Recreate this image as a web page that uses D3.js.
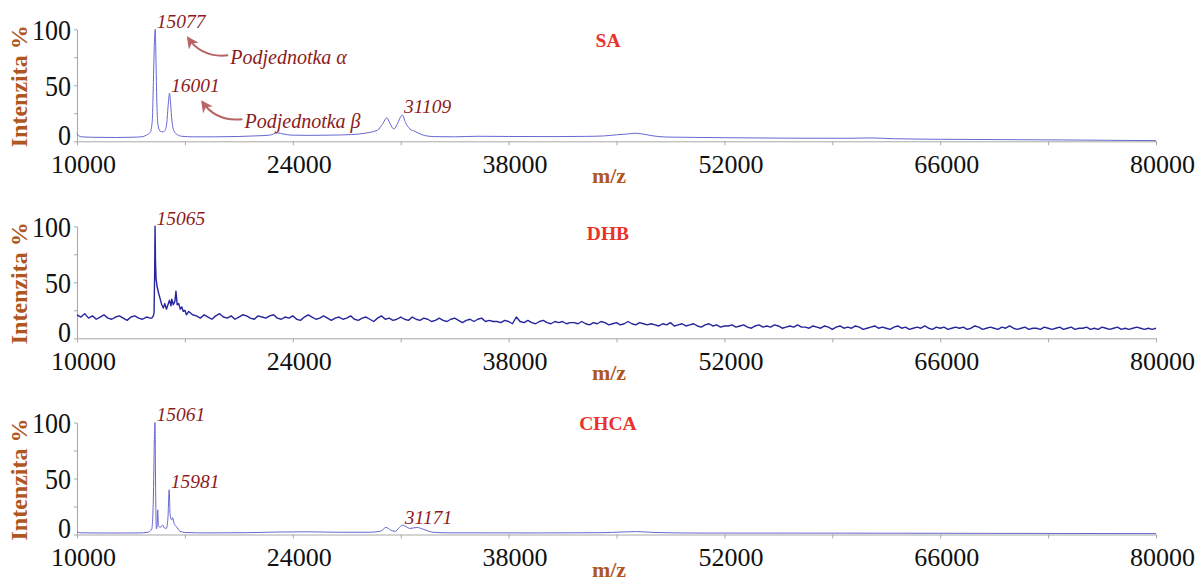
<!DOCTYPE html>
<html>
<head>
<meta charset="utf-8">
<script src="https://cdn.jsdelivr.net/npm/d3@7"></script>
<style>
  body { margin: 0; background: #fff; }
  svg { display: block; }
  text { font-family: "Liberation Serif", "Times New Roman", serif; }
</style>
</head>
<body>
<svg class="chart"></svg>
<script>
let svg_width = 1198;
let svg_height = 578;

let mzDomain = [10000, 80000];
let xTicks = [10000, 17000, 24000, 31000, 38000, 45000, 52000, 59000, 66000, 73000, 80000];
let yTicks = [0, 25, 50, 75, 100];

let matrixNames = ['SA', 'DHB', 'CHCA'];

// SA spectrum, [m/z, intensity %]
let saSpectrum = [
  [10000, 7], [10100, 5], [10300, 4], [11000, 3.6], [12500, 3.4], [13500, 3.6], [14200, 4], [14500, 5.5],
  [14750, 8], [14880, 18], [14960, 55], [15030, 92], [15077, 100], [15120, 75], [15180, 35], [15260, 14],
  [15400, 9], [15550, 8.5], [15700, 9.5], [15820, 16], [15920, 33], [16001, 43], [16070, 34], [16160, 18],
  [16300, 9], [16500, 6], [16800, 4.5], [17500, 4], [19000, 4], [20500, 4.3], [21500, 4.8], [22500, 5.5],
  [23000, 7.5], [23400, 6.5], [23900, 5.5], [25000, 5.3], [26500, 5.5], [27800, 6], [28800, 7.5], [29500, 10],
  [29850, 16], [30100, 21], [30300, 16], [30550, 11], [30800, 16], [31000, 22], [31109, 23.5], [31300, 17],
  [31600, 11], [31900, 9], [32200, 7], [32600, 5], [33200, 4.2], [34500, 4], [36000, 4.5], [38000, 4.3],
  [41000, 4.2], [43000, 4.4], [44200, 4.8], [45000, 5.8], [45700, 6.5], [46200, 7.2], [46700, 6.5], [47300, 5],
  [48200, 3.8], [50000, 3.5], [52000, 3.2], [56000, 2.8], [60000, 2.7], [61500, 3], [63000, 2.3], [66000, 1.8],
  [70000, 1.5], [74000, 1.2], [77000, 0.9], [80000, 0.6]
];

// CHCA spectrum, [m/z, intensity %]
let chcaSpectrum = [
  [10000, 2.5], [10200, 1.5], [12000, 1.3], [14000, 1.4], [14600, 2], [14850, 5], [14950, 30], [15020, 85],
  [15061, 100], [15100, 40], [15150, 5], [15200, 8], [15236, 22], [15280, 8], [15380, 6.5], [15480, 7],
  [15560, 8.5], [15650, 6], [15800, 5.5], [15900, 15], [15981, 40], [16040, 18], [16140, 13], [16200, 15],
  [16300, 10], [16450, 7], [16680, 3], [17000, 1.8], [18500, 1.4], [21000, 1.6], [23000, 2.2], [25000, 2.4],
  [27000, 2], [29000, 2], [29700, 3], [30050, 6.3], [30350, 4], [30640, 2.8], [30900, 6], [31110, 8.4],
  [31350, 7], [31610, 5.4], [32040, 6.3], [32500, 4.5], [33100, 2], [34000, 1.5], [40000, 1.4], [44000, 1.6],
  [45500, 2.3], [46300, 2.6], [47500, 1.8], [50000, 1.3], [60000, 1.2], [70000, 1], [80000, 0.8]
];

// DHB spectrum: noisy, sampled every 250 Da before and after the main peak
let dhbStep = 250;
let dhbLowStart = 10000;
let dhbLow = [21, 19, 22, 18, 20, 17, 19, 21, 18, 17, 19, 20, 18, 16, 19, 20, 18, 17, 19, 18];
let dhbPeak = [
  [14850, 18], [14950, 20], [15000, 23], [15040, 60], [15065, 100], [15090, 70], [15130, 53], [15200, 46],
  [15300, 40], [15400, 35], [15500, 30], [15600, 27], [15700, 31], [15800, 26], [15900, 30], [16000, 34],
  [16100, 29], [16150, 35], [16250, 30], [16350, 33], [16420, 42], [16500, 30], [16600, 31], [16700, 26],
  [16800, 28], [16900, 24], [17000, 25], [17100, 21]
];
let dhbTailStart = 17250;
let dhbTail = [
  24, 21, 20, 18, 21, 19, 17, 20, 22, 19, 18, 20, 17, 19, 21, 20, 18, 17, 20, 19,
  18, 20, 21, 18, 17, 19, 18, 20, 17, 16, 19, 21, 19, 17, 18, 20, 18, 16, 18, 19,
  17, 18, 20, 17, 16, 18, 19, 17, 15, 18, 20, 17, 18, 16, 17, 19, 17, 16, 19, 17,
  16, 18, 17, 15, 16, 18, 16, 15, 17, 18, 16, 14, 16, 17, 15, 17, 18, 15, 16, 15,
  15, 14, 16, 15, 13, 19, 15, 14, 16, 14, 13, 15, 16, 14, 13, 15, 14, 15, 13, 14,
  14, 13, 15, 13, 12, 14, 13, 15, 14, 12, 13, 14, 12, 13, 15, 13, 12, 14, 13, 12,
  13, 12, 11, 13, 12, 14, 11, 12, 13, 11, 12, 13, 11, 10, 12, 13, 11, 12, 10, 11,
  11, 12, 10, 11, 12, 10, 9, 11, 12, 10, 11, 10, 12, 11, 9, 10, 11, 10, 12, 10,
  10, 9, 11, 10, 9, 11, 10, 8, 10, 11, 9, 10, 9, 11, 10, 8, 9, 10, 11, 9,
  10, 9, 8, 10, 11, 9, 10, 8, 9, 10, 9, 11, 9, 8, 10, 9, 10, 8, 9, 10,
  9, 10, 8, 9, 11, 10, 8, 9, 10, 9, 8, 10, 9, 11, 9, 8, 9, 10, 8, 9,
  9, 8, 10, 9, 8, 9, 10, 8, 9, 10, 8, 9, 9, 10, 8, 9, 8, 10, 9, 8,
  9, 10, 8, 9, 8, 9, 10, 9, 8, 9, 8, 9
];

// labelled peaks [m/z, intensity %]
let saPeaks = [[15077, 100], [16001, 43], [31109, 23.5]];
let dhbPeaks = [[15065, 100]];
let chcaPeaks = [[15061, 100], [15981, 40], [31171, 8.4]];

let subunits = [[15077, 100, 'Podjednotka α'], [16001, 43, 'Podjednotka β']];

let dhbSpectrum = dhbLow.map((v, i) => [dhbLowStart + i * dhbStep, v])
  .concat(dhbPeak)
  .concat(dhbTail.map((v, i) => [dhbTailStart + i * dhbStep, v]));

let panels = [
  { name: matrixNames[0], data: saSpectrum, peaks: saPeaks, color: '#6666d2', width: 1, curve: d3.curveMonotoneX },
  { name: matrixNames[1], data: dhbSpectrum, peaks: dhbPeaks, color: '#25259c', width: 1.4, curve: d3.curveLinear },
  { name: matrixNames[2], data: chcaSpectrum, peaks: chcaPeaks, color: '#6666d2', width: 1, curve: d3.curveMonotoneX }
];

//layout
let panel_base = [141.3, 338.3, 534.5];
let panel_height = 112;
let name_base = [46.7, 239.5, 430];
let axisColor = '#a8a8a8';
let brown = '#b0561f';
let darkRed = '#8c1b1b';

let svg = d3.select('.chart')
  .attr('width', svg_width)
  .attr('height', svg_height);

svg.append('defs').append('marker')
  .attr('id', 'head')
  .attr('viewBox', '0 0 10 10')
  .attr('refX', 8)
  .attr('refY', 5)
  .attr('markerWidth', 6)
  .attr('markerHeight', 6)
  .attr('orient', 'auto')
  .append('path')
  .attr('d', 'M0,0 L10,5 L0,10 L3,5 Z')
  .attr('fill', '#b86464');

let scaleX = d3.scaleLinear()
  .domain(mzDomain)
  .range([77, 1156]);

panels.forEach((p, i) => {
  let base = panel_base[i];
  let scaleY = d3.scaleLinear()
    .domain([0, 100])
    .range([base, base - panel_height]);

  let g = svg.append('g');

  // x axis
  let axisX = d3.axisBottom(scaleX)
    .tickValues(xTicks)
    .tickSize(4)
    .tickSizeOuter(0)
    .tickPadding(9)
    .tickFormat(d => (d - 10000) % 14000 === 0 ? d : '');

  g.append('g')
    .attr('transform', translate(0, base))
    .call(axisX)
    .call(a => a.select('.domain').attr('stroke', axisColor))
    .call(a => a.selectAll('.tick line').attr('stroke', axisColor))
    .call(a => a.selectAll('.tick text')
      .attr('dx', 6)
      .attr('fill', '#111')
      .style('font-size', '26px')
      .style('font-family', '"Liberation Serif", "Times New Roman", serif'));

  // y axis
  let axisY = d3.axisLeft(scaleY)
    .tickValues(yTicks)
    .tickSize(3)
    .tickSizeOuter(0)
    .tickPadding(3)
    .tickFormat(d => d % 50 === 0 ? d : '');

  g.append('g')
    .attr('transform', translate(scaleX(mzDomain[0]), 0))
    .call(axisY)
    .call(a => a.select('.domain').attr('stroke', axisColor))
    .call(a => a.selectAll('.tick line').attr('stroke', axisColor))
    .call(a => a.selectAll('.tick text')
      .attr('fill', '#111')
      .attr('dy', d => d === 0 ? '0.1em' : '0.35em')
      .attr('transform', 'scale(1,1.1)')
      .style('font-size', '26px')
      .style('font-family', '"Liberation Serif", "Times New Roman", serif'));

  // spectrum
  let line = d3.line()
    .x(d => scaleX(d[0]))
    .y(d => scaleY(d[1]))
    .curve(p.curve);

  g.append('path')
    .datum(p.data)
    .attr('d', line)
    .attr('fill', 'none')
    .attr('stroke', p.color)
    .attr('stroke-width', p.width)
    .attr('stroke-linejoin', 'round');

  // peak labels
  g.selectAll('.peak')
    .data(p.peaks)
    .enter()
    .append('text')
    .attr('class', 'peak')
    .text(d => d[0])
    .attr('x', d => scaleX(d[0]) + 1.5)
    .attr('y', d => scaleY(d[1]) - 1.5)
    .attr('fill', darkRed)
    .style('font-style', 'italic')
    .style('font-size', '19.5px');

  // matrix name
  g.append('text')
    .text(p.name)
    .attr('x', 608)
    .attr('y', name_base[i])
    .attr('text-anchor', 'middle')
    .attr('fill', '#e8322a')
    .style('font-weight', 'bold')
    .style('font-size', '19.5px');

  // axis titles
  g.append('text')
    .text('m/z')
    .attr('x', 609)
    .attr('y', base + 42)
    .attr('text-anchor', 'middle')
    .attr('fill', brown)
    .style('font-weight', 'bold')
    .style('font-size', '22px');

  g.append('text')
    .text('Intenzita %')
    .attr('transform', translate(27, base - 55) + ' rotate(-90)')
    .attr('text-anchor', 'middle')
    .attr('fill', brown)
    .style('font-weight', 'bold')
    .style('font-size', '24px');

  // subunit annotations on first panel
  if (i === 0) {
    let ann = g.selectAll('.ann')
      .data(subunits)
      .enter()
      .append('g')
      .attr('class', 'ann')
      .attr('transform', d => translate(scaleX(d[0]) + 75, scaleY(d[1]) + 35));

    ann.append('path')
      .attr('d', 'M-2,-9 Q-28,-6 -42,-26')
      .attr('fill', 'none')
      .attr('stroke', '#a94a4a')
      .attr('stroke-opacity', 0.85)
      .attr('stroke-width', 2)
      .attr('marker-end', 'url(#head)');

    ann.append('text')
      .text(d => d[2])
      .attr('x', 0)
      .attr('y', 0)
      .attr('fill', darkRed)
      .style('font-style', 'italic')
      .style('font-size', '20px');
  }
});

function translate(x, y) {
  return 'translate(' + x + ',' + y + ')';
}
</script>
</body>
</html>
